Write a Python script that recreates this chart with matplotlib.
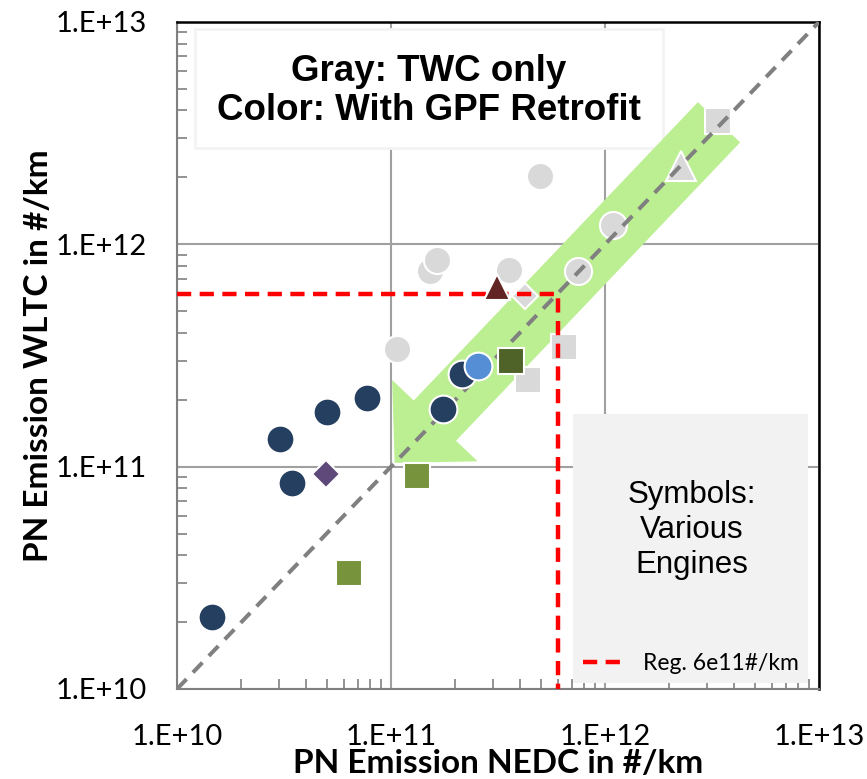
#!/usr/bin/env python

import matplotlib
matplotlib.use('Agg')
import matplotlib.pyplot as plt
import numpy as np
from matplotlib.patches import FancyArrowPatch, Rectangle, ArrowStyle
from matplotlib.ticker import FixedLocator, FixedFormatter, LogLocator, NullFormatter

# tick values / labels
tick_vals = [1e10, 1e11, 1e12, 1e13]
tick_labels = ['1.E+10', '1.E+11', '1.E+12', '1.E+13']

# gray = TWC only
gray_circle_x = [1.07e11, 1.52e11, 1.64e11, 3.56e11, 4.97e11, 7.5e11, 1.09e12]
gray_circle_y = [3.37e11, 7.6e11, 8.5e11, 7.7e11, 2.02e12, 7.6e11, 1.22e12]
gray_square_x = [4.37e11, 6.43e11, 3.37e12]
gray_square_y = [2.46e11, 3.47e11, 3.58e12]
gray_triangle_x = [2.27e12]
gray_triangle_y = [2.25e12]
gray_diamond_x = [4.23e11]
gray_diamond_y = [5.83e11]

# color = with GPF retrofit
navy_x = [1.46e10, 3.03e10, 3.46e10, 5.04e10, 7.75e10, 1.75e11, 2.15e11]
navy_y = [2.11e10, 1.33e11, 8.44e10, 1.76e11, 2.04e11, 1.81e11, 2.62e11]
blue_x = [2.56e11]
blue_y = [2.83e11]
dark_olive_x = [3.63e11]
dark_olive_y = [3.0e11]
olive_x = [1.32e11, 6.38e10]
olive_y = [9.04e10, 3.32e10]
purple_x = [4.95e10]
purple_y = [9.3e10]
red_tri_x = [3.13e11]
red_tri_y = [6.4e11]

reg_limit = 6e11
arrow_tail = (3.41e12, 3.54e12)
arrow_tip = (1.04e11, 1.04e11)

fig = plt.figure(figsize=(8.67, 7.79), dpi=100)
ax = fig.add_axes([177 / 867, 90 / 779, 642 / 867, 667 / 779])
ax.set_xscale('log')
ax.set_yscale('log')
ax.set_xlim(1e10, 1e13)
ax.set_ylim(1e10, 1e13)

# grid, spines, ticks
ax.grid(True, which='major', color='#A0A0A0', lw=1.5, zorder=0)
ax.set_axisbelow(True)
for s in ['left', 'bottom']:
    ax.spines[s].set_color('#808080')
    ax.spines[s].set_linewidth(1.5)
for s in ['top', 'right']:
    ax.spines[s].set_color('black')
    ax.spines[s].set_linewidth(1.8)
for axis in (ax.xaxis, ax.yaxis):
    axis.set_major_locator(FixedLocator(tick_vals))
    axis.set_major_formatter(FixedFormatter(tick_labels))
    axis.set_minor_locator(LogLocator(base=10, subs=np.arange(2, 10)))
    axis.set_minor_formatter(NullFormatter())
ax.tick_params(which='major', length=0, labelsize=21, pad=25)
ax.tick_params(axis='y', which='major', pad=21.5)
ax.tick_params(which='minor', direction='in', length=7, width=1.2, color='#808080')
for lab in ax.get_xticklabels() + ax.get_yticklabels():
    lab.set_fontfamily('Lato')

ax.set_xlabel('PN Emission NEDC in #/km', fontsize=24, fontweight='bold', family='Lato', va='center')
ax.set_ylabel('PN Emission WLTC in #/km', fontsize=24, fontweight='bold', family='Lato', va='center')
ax.xaxis.set_label_coords(0.5, -0.112)
ax.yaxis.set_label_coords(-0.2165, 0.5)

# green arrow
arr = FancyArrowPatch(posA=arrow_tail, posB=arrow_tip,
                      arrowstyle=ArrowStyle.Simple(head_length=42, head_width=85, tail_width=42),
                      mutation_scale=1, shrinkA=0, shrinkB=0, color='#BCEE92', lw=0, zorder=2)
ax.add_patch(arr)

# text boxes
ax.add_patch(Rectangle((0.028, 0.811), 0.729, 0.1785, transform=ax.transAxes,
                       facecolor='white', edgecolor='#F3F3F3', lw=2, zorder=1.5))
ax.text(0.3925, 0.8966, 'Gray: TWC only\nColor: With GPF Retrofit', transform=ax.transAxes,
        ha='center', va='center', fontsize=26.5, fontweight='bold', family='Liberation Sans',
        linespacing=1.15, zorder=6)
ax.add_patch(Rectangle((0.617, 0.009), 0.366, 0.403, transform=ax.transAxes,
                       facecolor='#F2F2F2', edgecolor='none', zorder=1.5))
ax.text(0.802, 0.2384, 'Symbols:\nVarious\nEngines', transform=ax.transAxes,
        ha='center', va='center', fontsize=22.5, family='Liberation Sans',
        linespacing=1.2, zorder=6)

mk = dict(ls='none', mec='white', mew=1.5)
gray = '#D9D9D9'
ax.plot(gray_circle_x, gray_circle_y, marker='o', ms=19.5, color=gray, zorder=3, **mk)
ax.plot(gray_square_x, gray_square_y, marker='s', ms=19, color=gray, zorder=3, **mk)
ax.plot(gray_triangle_x, gray_triangle_y, marker='^', ms=21, color=gray, zorder=3, **mk)
ax.plot(gray_diamond_x, gray_diamond_y, marker='D', ms=13.5, color=gray, zorder=3, **mk)

# 1:1 line and regulation limit
ax.plot([1e10, 1e13], [1e10, 1e13], color='#808080', lw=2.9, dashes=(3.4, 2.3), zorder=4)
reg, = ax.plot([1e10, reg_limit, reg_limit], [reg_limit, reg_limit, 1e10], color='#FF0000',
               lw=3.2, dashes=(3.2, 1.9), zorder=4.5, label='Reg. 6e11#/km')

ax.plot(navy_x, navy_y, marker='o', ms=20, color='#243F60', zorder=5, **mk)
ax.plot(blue_x, blue_y, marker='o', ms=20, color='#558ED5', zorder=5, **mk)
ax.plot(dark_olive_x, dark_olive_y, marker='s', ms=19, color='#4F6228', zorder=5, **mk)
ax.plot(olive_x, olive_y, marker='s', ms=19, color='#77933C', zorder=5, **mk)
ax.plot(purple_x, purple_y, marker='D', ms=14, color='#5F497A', zorder=5, **mk)
ax.plot(red_tri_x, red_tri_y, marker='^', ms=19, color='#632523', zorder=5, **mk)

leg = ax.legend(handles=[reg], loc='center left', bbox_to_anchor=(0.632, 0.0375),
                frameon=False, borderpad=0, borderaxespad=0, handlelength=1.9,
                handletextpad=0.75, prop={'family': 'Lato', 'size': 16.5})
leg.set_zorder(6)

fig.savefig('out.png', dpi=100)
